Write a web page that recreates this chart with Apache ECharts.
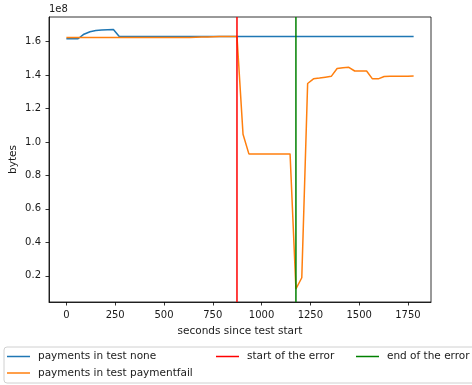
<!DOCTYPE html>
<html><head><meta charset="utf-8">
<script src="https://cdn.jsdelivr.net/npm/echarts@6/dist/echarts.min.js"></script>
<style>html,body{margin:0;padding:0;background:#fff}#c{width:472px;height:385px}</style>
</head><body><div id="c"></div>
<script>
// seconds since test start
const times = [0,30,60,90,121,151,181,211,241,271,302,332,362,392,422,452,482,513,543,573,603,633,663,694,724,754,784,814,844,874,905,935,965,995,1025,1055,1086,1116,1146,1176,1206,1236,1266,1297,1327,1357,1387,1417,1447,1477,1508,1538,1568,1598,1628,1658,1689,1719,1749,1779];
// bytes, in units of 1e8
const noneVals = [1.618,1.618,1.618,1.645,1.660,1.667,1.670,1.672,1.673,1.632,1.632,1.632,1.632,1.632,1.632,1.632,1.632,1.632,1.632,1.632,1.632,1.632,1.632,1.632,1.632,1.632,1.632,1.632,1.632,1.632,1.632,1.632,1.632,1.632,1.632,1.632,1.632,1.632,1.632,1.632,1.632,1.632,1.632,1.632,1.632,1.632,1.632,1.632,1.632,1.632,1.632,1.632,1.632,1.632,1.632,1.632,1.632,1.632,1.632,1.632];
const failVals = [1.625,1.625,1.625,1.625,1.625,1.625,1.625,1.625,1.625,1.625,1.625,1.625,1.625,1.625,1.625,1.625,1.625,1.625,1.625,1.625,1.625,1.626,1.627,1.628,1.629,1.630,1.631,1.631,1.632,1.632,1.047,0.929,0.929,0.929,0.929,0.929,0.929,0.929,0.929,0.122,0.188,1.350,1.378,1.383,1.388,1.393,1.440,1.445,1.447,1.425,1.425,1.425,1.378,1.378,1.392,1.393,1.393,1.394,1.394,1.395];
const errorStart = 874;
const errorEnd = 1176;
const xTicks = [0,250,500,750,1000,1250,1500,1750];
const yTicks = [0.2,0.4,0.6,0.8,1.0,1.2,1.4,1.6];
const yMin = 0.043, yMax = 1.748;
const xMin = -89, xMax = 1868;

const font = 'DejaVu Sans';
const txt = '#1a1a1a';
const chart = echarts.init(document.getElementById('c'), null, {renderer:'canvas'});
const lineSeries = (name, xs, ys, color) => ({
  name, type:'line', symbol:'none', animation:false,
  data: xs.map((x,i)=>[x, ys[i]]),
  lineStyle:{color, width:1.5}, itemStyle:{color}, z: 3
});
const legendBase = {
  orient:'vertical', icon:'rect', itemWidth:23, itemHeight:1.5, itemGap:4.5, padding:0, z:5,
  textStyle:{fontFamily:font, fontSize:10.5, color:txt, padding:[0,0,0,3], lineHeight:12},
  selectedMode:false
};
const axisCommon = {
  axisLine:{show:true, onZero:false, lineStyle:{color:'#000', width:0.8}},
  splitLine:{show:false},
  nameMoveOverlap:false,
  nameTextStyle:{fontFamily:font, fontSize:10.5, color:txt}
};
chart.setOption({
  animation:false,
  grid:{left:49, right:41, top:17, bottom:83, show:true, borderColor:'#000', borderWidth:0.8, backgroundColor:'transparent', containLabel:false, outerBoundsMode:'none'},
  xAxis:Object.assign({type:'value', min:xMin, max:xMax,
    name:'seconds since test start', nameLocation:'middle', nameGap:24,
    axisTick:{show:true, inside:false, length:3.5, lineStyle:{color:'#000', width:0.8}, customValues:xTicks},
    axisLabel:{fontFamily:font, fontSize:10, color:txt, margin:8, customValues:xTicks, formatter:v=>String(v)}
  }, axisCommon),
  yAxis:Object.assign({type:'value', min:yMin, max:yMax,
    name:'bytes', nameLocation:'middle', nameGap:30, nameRotate:90,
    axisTick:{show:true, inside:false, length:3.5, lineStyle:{color:'#000', width:0.8}, customValues:yTicks},
    axisLabel:{fontFamily:font, fontSize:10, color:txt, margin:8, customValues:yTicks, formatter:v=>v.toFixed(1)}
  }, axisCommon),
  legend:[
    Object.assign({}, legendBase, {left:7, top:350.5, data:['payments in test none','payments in test paymentfail']}),
    Object.assign({}, legendBase, {left:216, top:350.5, data:['start of the error']}),
    Object.assign({}, legendBase, {left:356, top:350.5, data:['end of the error']})
  ],
  graphic:[
    {type:'rect', z:1, shape:{x:4, y:347, width:490, height:36, r:3}, style:{fill:'rgba(255,255,255,0.8)', stroke:'#d0d0d0', lineWidth:1}},
    {type:'text', z:5, left:49, top:4, style:{text:'1e8', fontFamily:font, fontSize:10, fill:txt}}
  ],
  series:[
    lineSeries('payments in test none', times, noneVals, '#1f77b4'),
    lineSeries('payments in test paymentfail', times, failVals, '#ff7f0e'),
    lineSeries('start of the error', [errorStart, errorStart], [yMin, yMax], '#ff0000'),
    lineSeries('end of the error', [errorEnd, errorEnd], [yMin, yMax], '#008000')
  ]
});
</script></body></html>
